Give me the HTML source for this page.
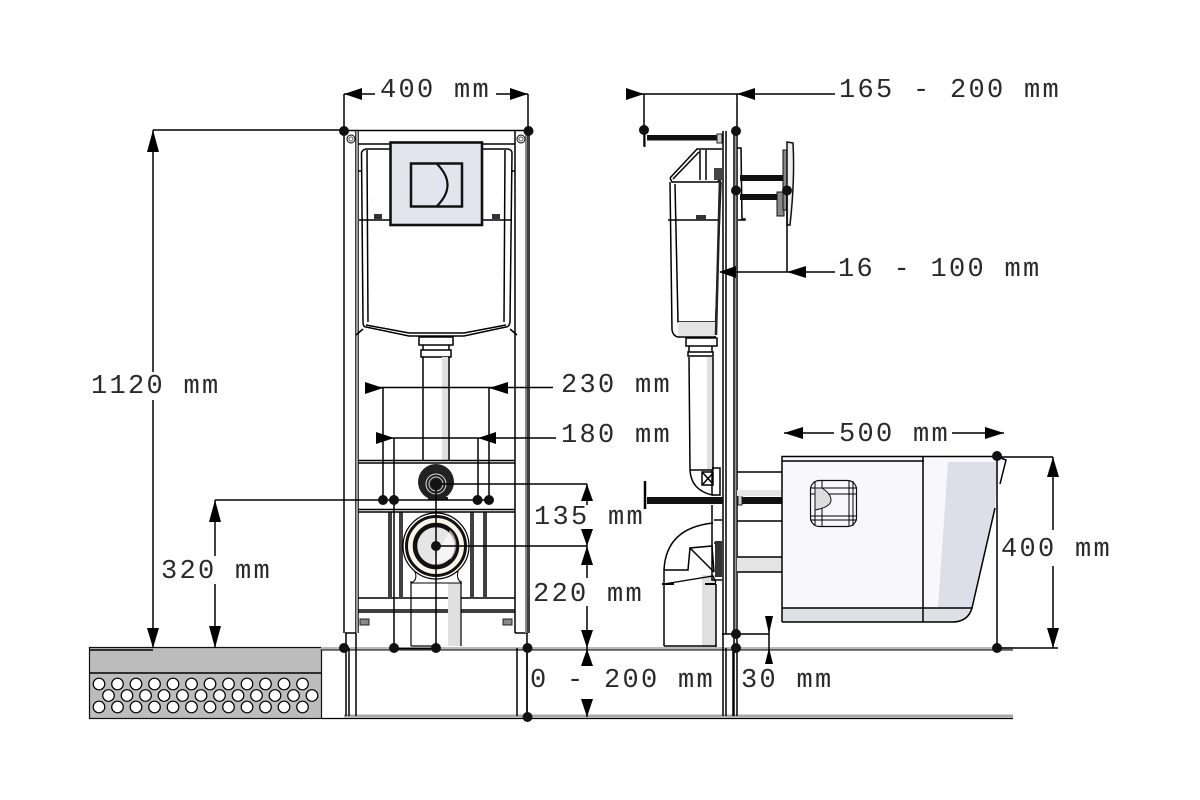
<!DOCTYPE html>
<html><head><meta charset="utf-8"><style>
html,body{margin:0;padding:0;background:#fff}
svg{display:block}
text{font-family:"Liberation Mono",monospace;font-size:27px;letter-spacing:2.3px;fill:#2a2a2a}
.l{stroke:#000;stroke-width:1.500;fill:none}
.t{stroke:#000;stroke-width:2;fill:none}
.g{fill:#e2e2e2;stroke:none}
</style></head><body>
<svg width="1200" height="800" viewBox="0 0 1200 800" xmlns="http://www.w3.org/2000/svg">
<rect width="1200" height="800" fill="#fff"/>

<!-- floor block -->
<rect x="89.5" y="647.5" width="232" height="71" fill="#bcbcbc" stroke="#111" stroke-width="1.2"/>
<path class="l" d="M90 673H321M90 650H153"/>
<g fill="#fff" stroke="#000" stroke-width="1.2">
<circle cx="99" cy="684" r="5.8"/><circle cx="117.500" cy="684" r="5.8"/><circle cx="136" cy="684" r="5.8"/><circle cx="154.500" cy="684" r="5.8"/><circle cx="173" cy="684" r="5.8"/><circle cx="191.500" cy="684" r="5.8"/><circle cx="210" cy="684" r="5.8"/><circle cx="228.500" cy="684" r="5.8"/><circle cx="247" cy="684" r="5.8"/><circle cx="265.500" cy="684" r="5.8"/><circle cx="284" cy="684" r="5.8"/><circle cx="302.500" cy="684" r="5.8"/>
<circle cx="108.500" cy="695.500" r="5.8"/><circle cx="127" cy="695.500" r="5.8"/><circle cx="145.500" cy="695.500" r="5.8"/><circle cx="164" cy="695.500" r="5.8"/><circle cx="182.500" cy="695.500" r="5.8"/><circle cx="201" cy="695.500" r="5.8"/><circle cx="219.500" cy="695.500" r="5.8"/><circle cx="238" cy="695.500" r="5.8"/><circle cx="256.500" cy="695.500" r="5.8"/><circle cx="275" cy="695.500" r="5.8"/><circle cx="293.500" cy="695.500" r="5.8"/><circle cx="312" cy="695.500" r="5.8"/>
<circle cx="99" cy="707" r="5.8"/><circle cx="117.500" cy="707" r="5.8"/><circle cx="136" cy="707" r="5.8"/><circle cx="154.500" cy="707" r="5.8"/><circle cx="173" cy="707" r="5.8"/><circle cx="191.500" cy="707" r="5.8"/><circle cx="210" cy="707" r="5.8"/><circle cx="228.500" cy="707" r="5.8"/><circle cx="247" cy="707" r="5.8"/><circle cx="265.500" cy="707" r="5.8"/><circle cx="284" cy="707" r="5.8"/><circle cx="302.500" cy="707" r="5.8"/>
</g>

<!-- floor lines -->
<rect x="321" y="647" width="692" height="2.500" fill="#bbb"/>
<path d="M321 650H1013" stroke="#000" stroke-width="1"/>
<rect x="344" y="714.500" width="669" height="3" fill="#aaa"/>
<path d="M322 718.500H1013" stroke="#000" stroke-width="1.300"/>

<!-- FRONT VIEW: frame -->
<g class="l">
<path d="M344 131V633M356 131V633M358 131V633"/>
<path d="M515 131V633M527 131V648M529 131V633"/>
<path d="M344 130.500H529M358 144H515"/>
<path d="M345 633H356V716M346 633V716M349 648V716M356 648V716"/>
<path d="M515 633H527M517 648V716M527 648V716"/>
</g>
<rect x="356" y="131" width="2" height="502" fill="#999"/>
<rect x="525" y="131" width="2" height="502" fill="#888"/>
<circle cx="351" cy="139" r="4" fill="#fff" stroke="#000"/><circle cx="351" cy="139" r="2" fill="#fff" stroke="#555"/>
<circle cx="521" cy="139" r="4" fill="#fff" stroke="#000"/><circle cx="521" cy="139" r="2" fill="#fff" stroke="#555"/>

<!-- cistern -->
<g class="l">
<path d="M391 149H366Q362 150 361.500 153L363 322Q363 327 366 327L409 336H464L506 327Q509 327 510 322L512 153Q512 150 508 149H482"/>
<path d="M367 150L368 322M505 150L504 322M366 325L409 333H464L506 325"/>
<path d="M359 220H390M482 220H512M358 171H361M512 171H515M363 329L356 335M510 329L517 335"/>
<path d="M419 337H453V345H419ZM423 345V350H449V345M421 350H451V357H421Z"/>
</g>
<rect x="374" y="214" width="8" height="5" fill="#333"/><rect x="492" y="214" width="8" height="5" fill="#333"/>
<rect x="390.500" y="142.500" width="91.500" height="82.500" fill="#e3e5ee" stroke="#111" stroke-width="2.600"/>
<rect x="411" y="163.500" width="51" height="43" fill="#e3e5ee" stroke="#111" stroke-width="2.500"/>
<path d="M437 164Q458 185 437 206" fill="none" stroke="#111" stroke-width="2.200"/>

<!-- front pipe -->
<rect x="442" y="357" width="6" height="104" fill="#e0e0e0"/>
<path class="l" d="M423 357V461M449 357V461"/>

<!-- cross bars and panels -->
<g class="l">
<path d="M358 460.500H515M358 463H515M358 509.500H515M358 512H515"/>
<path d="M358 598H515M358 610H515M358 612H515"/>
<path d="M389 512V597M391 512V597M400 512V597M402 512V597M471 512V597M473 512V597M484 512V597M486 512V597"/>
</g>
<rect x="360" y="619" width="9" height="6" fill="#888" stroke="#222"/><rect x="503" y="619" width="9" height="6" fill="#888" stroke="#222"/>
<rect x="448" y="580" width="13" height="66" fill="#e0e0e0"/>
<path d="M411 581V646M461 581V646M411 646H436" stroke="#000" stroke-width="1.200" fill="none"/>
<circle cx="436" cy="482" r="18" fill="#222"/>
<path d="M448 497H428V500H448Z" fill="#222"/>
<circle cx="436" cy="484" r="10" fill="none" stroke="#ddd" stroke-width="1"/>
<circle cx="436" cy="484" r="7" fill="none" stroke="#ccc" stroke-width="1"/>
<path d="M415 572Q418 580 411 583H461Q456 578 458 572Z" fill="#fff" stroke="#000"/>
<circle cx="436" cy="546" r="33" fill="#fff" stroke="#000" stroke-width="1.200"/>
<circle cx="436" cy="546" r="29.500" fill="#f7f6e8" stroke="#111" stroke-width="3"/>
<circle cx="436" cy="546" r="21" fill="#e6e6e6" stroke="#111" stroke-width="4.500"/>
<path d="M432 564L450 530A21 21 0 0 1 451 559Z" fill="#fff" opacity=".6"/>

<!-- SIDE VIEW frame -->
<g class="l">
<path d="M723 131V716M726 131V634M734 131V716M737 94V716M722 634H769M726 648V716M733 648V716"/>
</g>
<rect x="735" y="131" width="1.500" height="503" fill="#999"/>

<!-- top rod -->
<rect x="647" y="135" width="72" height="5.500" fill="#111"/>
<rect x="717" y="134" width="5" height="9" fill="#ccc" stroke="#222"/>
<path d="M644.500 125V147" stroke="#000" stroke-width="2"/>

<!-- side cistern -->
<g class="l">
<path d="M670 178L697 149H722M673 179L699 152M670 178L672 182H718L721 172"/>
<path d="M670 182L672 330Q673 336 678 337H715L721 182"/>
<path d="M675 184L678 322H716M668 220H719M700 150V180M706 150V180"/>
<path d="M686 338H717V346H686ZM689 346V352H712V346M688 352H713V356H688Z"/>
</g>
<rect x="696" y="215" width="10" height="5" fill="#333"/>
<rect x="678" y="322" width="38" height="14" fill="#e4e4e4"/>
<path d="M720 178L716 335" stroke="#222" stroke-width="2.500" fill="none"/>
<rect x="714" y="168" width="8" height="12" fill="#444"/>
<path class="l" d="M737 148H741L742 219H745V220H738"/>

<!-- wall plate and rods -->
<rect x="740" y="175" width="43" height="6" fill="#111"/>
<rect x="740" y="194" width="37" height="6" fill="#111"/>
<rect x="777" y="192" width="7" height="24" fill="#888" stroke="#111"/>
<rect x="783" y="150" width="4" height="60" fill="#888" stroke="#111"/>
<path d="M787 142L793 143Q795 180 790 225H787Z" fill="#eee" stroke="#111" stroke-width="1.500"/>

<!-- side pipe -->
<rect x="707" y="357" width="6" height="113" fill="#e0e0e0"/>
<path class="l" d="M689 357L690 470Q691 490 712 495V470M713 357V470H690"/>
<path class="l" d="M702 472H713V485H702ZM703 484L713 473M703 473L713 484M712 468H720V495H712"/>

<!-- lower rod -->
<rect x="647" y="497" width="76" height="7" fill="#111"/>
<path d="M645 481V509" stroke="#000" stroke-width="2.500"/>
<rect x="737" y="497" width="45" height="7" fill="#111"/>
<rect x="738" y="495" width="4" height="10" fill="#ccc" stroke="#222"/>
<rect x="737" y="490" width="45" height="6" fill="#e6e6e6"/>
<rect x="737" y="557" width="45" height="15" fill="#e4e4e4"/>
<path class="l" d="M737 472H782M737 521H782M737 557H782M737 572H782"/>

<!-- elbow -->
<rect x="702" y="575" width="14" height="72" fill="#e0e0e0"/>
<path class="l" d="M664 646V570Q666 528 713 523M664 570H688L690 548L712 546L714 572M690 548L714 572"/>
<path d="M664 584L713 576L716 583" fill="none" stroke="#000" stroke-width="1.300"/>
<path class="l" d="M716 584V647M664 646H716M712 505V580H722M714 520H722M714 543H722"/>
<rect x="715" y="541" width="7" height="36" fill="#333"/>
<path d="M662 584H674M705 584H716" stroke="#000" stroke-width="2"/>

<!-- BOWL -->
<path d="M782 456H1005L995 508L972 608Q968 622 952 622H782Z" fill="#f8f8fc"/>
<path d="M948 462H997L995 508L972 608H938Z" fill="#dedee8"/>
<path d="M782 608H972Q968 622 952 622H782Z" fill="#dfdfe6"/>
<path d="M923 456V622" class="l"/>
<path class="l" d="M782 622V456.500H997L1006 460L1000 484M995 508L972 608Q968 622 952 622H782M782 461H924M782 608H972"/>
<rect x="810.500" y="480.500" width="46" height="46" rx="9" fill="#f8f8fc" stroke="#111" stroke-width="1.200"/>
<path d="M815 481V526M822 481V526M849 481V526M853 481V526M810 488H857M810 494H857M810 516H857M810 520H857" stroke="#000" stroke-width="1" fill="none"/>
<path d="M815 488H822Q831 494 831 500Q831 507 815 510Z" fill="#ddd" stroke="#111"/>

<!-- DIMENSIONS lines -->
<g class="l">
<path d="M153 130H344M153 130V372M153 400V648"/>
<path d="M215 500H383M215 500V556M215 584V648"/>
<path d="M344 94V130M528 94V130M344 94H375M496 94H528"/>
<path d="M626 94H835M644 94V146"/>
<path d="M720 272H835M787 191V272"/>
<path d="M365 387.500H553M383 388V500M489 388V500"/>
<path d="M376 438H556M394 438V648M478 438V500"/>
<path d="M383 500H489M436 484V648M394 648.500H436"/>
<path d="M436 484H587M436 546H587M587 484V505M587 529V578M587 606V664M587 700V717"/>
<path d="M527 648V717"/>
<path d="M784 433H834M952 433H1004"/>
<path d="M997 456V648M997 457H1053M1053 457V530M1053 566V648M997 648H1058"/>
<path d="M769 616V664"/>
</g>

<!-- arrowheads -->
<g fill="#000">
<path d="M153 130L147 152H159Z"/><path d="M153 648L147 628H159Z"/>
<path d="M215 500L209 522H221Z"/><path d="M215 648L209 626H221Z"/>
<path d="M344 94L362 88V100Z"/><path d="M528 94L510 88V100Z"/>
<path d="M644 94L626 88V100Z"/><path d="M737 94L755 88V100Z"/>
<path d="M719 272L736 266V278Z"/><path d="M787 272L806 266V278Z"/>
<path d="M383 388L365 382V394Z"/><path d="M489 388L508 382V394Z"/>
<path d="M394 438L376 432V444Z"/><path d="M478 438L496 432V444Z"/>
<path d="M587 484L581 501H593Z"/><path d="M587 546L581 529H593Z"/>
<path d="M587 546L581 565H593Z"/><path d="M587 648L581 630H593Z"/>
<path d="M587 649L581 666H593Z"/><path d="M587 717L581 699H593Z"/>
<path d="M784 433L803 427V439Z"/><path d="M1004 433L985 427V439Z"/>
<path d="M1053 457L1047 477H1059Z"/><path d="M1053 648L1047 628H1059Z"/>
<path d="M769 634L765 616H773Z"/><path d="M769 648L765 664H773Z"/>
</g>

<!-- dots -->
<g fill="#111">
<circle cx="344" cy="131" r="5"/><circle cx="528.500" cy="131" r="5"/>
<circle cx="736" cy="131" r="5"/><circle cx="644" cy="130" r="5"/>
<circle cx="736" cy="190.500" r="5"/><circle cx="787" cy="190.500" r="5"/>
<circle cx="383" cy="500" r="5"/><circle cx="394" cy="500" r="5"/><circle cx="477.500" cy="500" r="5"/><circle cx="489" cy="500" r="5"/>
<circle cx="436" cy="484" r="5"/><circle cx="436" cy="546" r="5"/>
<circle cx="344" cy="648" r="5"/><circle cx="394" cy="648" r="5"/><circle cx="436" cy="648" r="5"/><circle cx="527.500" cy="648" r="5"/><circle cx="527.500" cy="717" r="5"/>
<circle cx="736" cy="634" r="5"/><circle cx="736" cy="648" r="5"/>
<circle cx="997" cy="456" r="5"/><circle cx="997" cy="648" r="5"/>
</g>

<!-- labels -->
<text x="380" y="97">400 mm</text>
<text x="839" y="97">165 - 200 mm</text>
<text x="838" y="276">16 - 100 mm</text>
<text x="91" y="393">1120 mm</text>
<text x="561" y="392">230 mm</text>
<text x="561" y="442">180 mm</text>
<text x="534" y="524">135 mm</text>
<text x="533" y="601">220 mm</text>
<text x="161" y="578">320 mm</text>
<text x="530" y="687">0 - 200 mm</text>
<text x="741" y="687">30 mm</text>
<text x="839" y="441">500 mm</text>
<text x="1001" y="556">400 mm</text>
</svg>
</body></html>
